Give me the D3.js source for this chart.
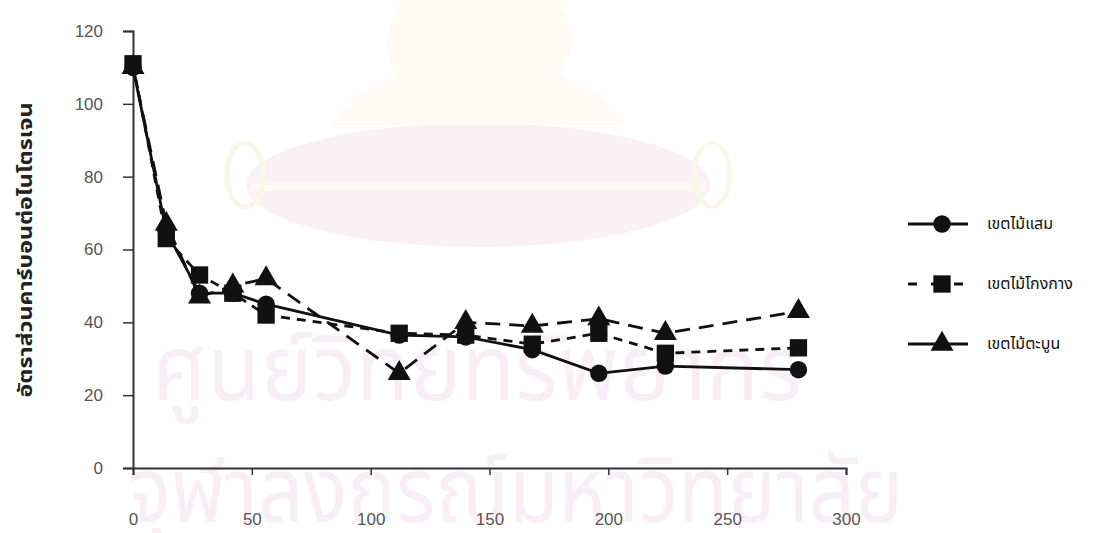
<!DOCTYPE html>
<html>
<head>
<meta charset="utf-8">
<title>C/N ratio</title>
<script src="https://d3js.org/d3.v7.min.js"></script>
<style>
  body { margin: 0; background: #fff; }
  svg { display: block; }
  text { font-family: "Liberation Sans", Arial, sans-serif; }
  .thai { font-family: "Noto Sans Thai", "Noto Sans", "DejaVu Sans", sans-serif; }
</style>
</head>
<body>
<script>
// data
var days = [0, 14, 28, 42, 56, 112, 140, 168, 196, 224, 280];
var seriesNames = ["เขตไม้แสม", "เขตไม้โกงกาง", "เขตไม้ตะบูน"];
var avicennia = [110, 65, 48, 48, 45, 36.5, 36, 32.5, 26, 28, 27];
var rhizophora = [111, 63, 53, 48, 42, 37, 36.5, 34, 37, 31.5, 33];
var xylocarpus = [110, 67, 47, 50, 52, 26, 40, 39, 41, 37, 43];
var xTicks = [0, 50, 100, 150, 200, 250, 300];
var yTicks = [0, 20, 40, 60, 80, 100, 120];
var yTitle = "อัตราส่วนคาร์บอนต่อไนโตรเจน";
var watermark = ["ศูนย์วิทยทรัพยากร", "จุฬาลงกรณ์มหาวิทยาลัย"];

var w = 1104, h = 533;
var svg = d3.select("body").append("svg").attr("width", w).attr("height", h);
svg.append("rect").attr("width", w).attr("height", h).attr("fill", "#fff");

// faint watermark in the background
var wm = svg.append("g");
wm.append("ellipse").attr("cx", 478).attr("cy", 185).attr("rx", 232).attr("ry", 62)
  .attr("fill", "#fbf1f5");
wm.append("path")
  .attr("d", "M400,0 L560,0 L575,40 L560,75 L600,95 L625,125 L330,125 L355,95 L395,75 L385,40 Z")
  .attr("fill", "#fdfbf4");
wm.append("rect").attr("x", 250).attr("y", 183).attr("width", 455).attr("height", 8).attr("fill", "#fcfaf1");
[[245, 175], [712, 175]].forEach(function(p) {
  wm.append("ellipse").attr("cx", p[0]).attr("cy", p[1]).attr("rx", 18).attr("ry", 32)
    .attr("fill", "none").attr("stroke", "#faf6ea").attr("stroke-width", 5);
});
wm.append("text").attr("class", "thai").attr("x", 152).attr("y", 400)
  .attr("textLength", 650).attr("lengthAdjust", "spacingAndGlyphs")
  .attr("font-size", 92).attr("fill", "#f8eff6").text(watermark[0]);
wm.append("text").attr("class", "thai").attr("x", 128).attr("y", 522)
  .attr("textLength", 775).attr("lengthAdjust", "spacingAndGlyphs")
  .attr("font-size", 92).attr("fill", "#f8eff6").text(watermark[1]);

var x = d3.scaleLinear().domain([0, 300]).range([133, 846]);
var y = d3.scaleLinear().domain([0, 120]).range([468, 31]);

// axes
var xAxis = svg.append("g").attr("transform", "translate(0," + y(0) + ")")
  .call(d3.axisBottom(x).tickValues(xTicks).tickSize(7).tickSizeOuter(7).tickPadding(38));
var yAxis = svg.append("g").attr("transform", "translate(" + x(0) + ",0)")
  .call(d3.axisLeft(y).tickValues(yTicks).tickSize(10).tickSizeOuter(10).tickPadding(20));
[xAxis, yAxis].forEach(function(a) {
  a.select(".domain").attr("stroke", "#333").attr("stroke-width", 2);
  a.selectAll(".tick line").attr("stroke", "#333").attr("stroke-width", 1.5);
  a.selectAll(".tick text").attr("font-size", 17).attr("fill", "#555")
    .attr("font-family", "'Liberation Sans', Arial, sans-serif");
});

svg.append("text").attr("class", "thai")
  .attr("transform", "translate(26,250) rotate(-90)")
  .attr("text-anchor", "middle").attr("dominant-baseline", "central")
  .attr("font-size", 19).attr("font-weight", "bold").attr("fill", "#222")
  .attr("textLength", 295).attr("lengthAdjust", "spacingAndGlyphs")
  .text(yTitle);

var series = [
  { name: seriesNames[0], values: avicennia, shape: d3.symbolCircle, size: 240, dash: null },
  { name: seriesNames[2], values: xylocarpus, shape: d3.symbolTriangle, size: 230, dash: "15,9" },
  { name: seriesNames[1], values: rhizophora, shape: d3.symbolSquare, size: 300, dash: "9,7" }
];

var line = d3.line().x(function(d) { return x(d[0]); }).y(function(d) { return y(d[1]); });

series.forEach(function(s) {
  var pts = days.map(function(d, i) { return [d, s.values[i]]; });
  svg.append("path").datum(pts).attr("d", line)
    .attr("fill", "none").attr("stroke", "#111").attr("stroke-width", 2.8)
    .attr("stroke-dasharray", s.dash);
  svg.selectAll(null).data(pts).enter().append("path")
    .attr("transform", function(d) { return "translate(" + x(d[0]) + "," + y(d[1]) + ")"; })
    .attr("d", d3.symbol().type(s.shape).size(s.size))
    .attr("fill", "#111");
});

// legend
var legendOrder = [
  { name: seriesNames[0], shape: d3.symbolCircle, size: 240, dash: null },
  { name: seriesNames[1], shape: d3.symbolSquare, size: 300, dash: "9,14" },
  { name: seriesNames[2], shape: d3.symbolTriangle, size: 230, dash: null }
];
var legend = svg.selectAll(".leg").data(legendOrder).enter().append("g")
  .attr("transform", function(d, i) { return "translate(908," + (224 + i * 60) + ")"; });
legend.append("line").attr("x1", 0).attr("x2", 60).attr("y1", 0).attr("y2", 0)
  .attr("stroke", "#111").attr("stroke-width", 2.8)
  .attr("stroke-dasharray", function(d) { return d.dash; });
legend.append("path").attr("transform", "translate(34,0)")
  .attr("d", function(d) { return d3.symbol().type(d.shape).size(d.size)(); })
  .attr("fill", "#111");
legend.append("text").attr("class", "thai").attr("x", 79).attr("y", 0)
  .attr("dominant-baseline", "central").attr("font-size", 16).attr("fill", "#111")
  .text(function(d) { return d.name; });
</script>
</body>
</html>
